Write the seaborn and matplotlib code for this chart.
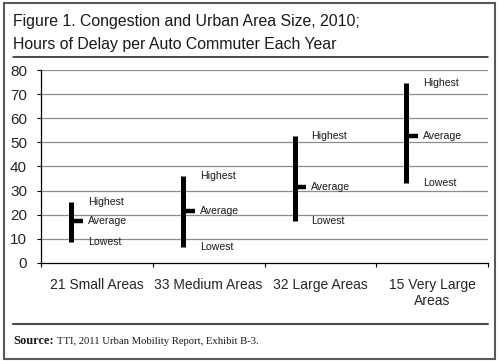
import pandas as pd
import seaborn as sns
import matplotlib.pyplot as plt
from matplotlib.patches import Rectangle
from matplotlib.lines import Line2D

# Dados (horas de atraso por usuário de automóvel, 2010)
areas = ['21 Small Areas', '33 Medium Areas', '32 Large Areas', '15 Very Large\nAreas']
highest = [25.4, 36.0, 52.6, 74.7]
average = [17.5, 21.6, 31.3, 52.6]
lowest = [8.8, 6.7, 17.3, 33.0]
y_ticks = [0, 10, 20, 30, 40, 50, 60, 70, 80]

sns.set_theme(style='white')
plt.rcParams['font.family'] = ['Liberation Sans', 'DejaVu Sans']

df = pd.DataFrame({'area': areas, 'Highest': highest, 'Average': average, 'Lowest': lowest})
df['pos'] = range(len(df))
df['pos'] = df['pos'] - 0.23
df_long = df.melt(id_vars=['area', 'pos'], value_vars=['Lowest', 'Highest'], value_name='valor')

fig = plt.figure(figsize=(5, 3.61), dpi=100)
ax = fig.add_axes([0.082, 0.272, 0.894, 0.534])

# linhas horizontais de grade
for t in y_ticks[1:]:
    ax.axhline(t, color='#8c8c8c', lw=0.9, zorder=0)

# faixa mínimo-máximo
sns.lineplot(data=df_long, x='pos', y='valor', units='area', estimator=None,
             color='black', lw=3.6, ax=ax, legend=False, sort=False)
for line in ax.lines:
    line.set_solid_capstyle('butt')
# marca da média
ax.hlines(df['Average'], df['pos'], df['pos'] + 0.105, color='black', lw=3.2)

# rótulos
for _, r in df.iterrows():
    for nome in ['Highest', 'Average', 'Lowest']:
        ax.text(r['pos'] + 0.15, r[nome], nome, fontsize=7.6, va='center', ha='left', color='#1a1a1a')

ax.set_xlim(-0.5, 3.5)
ax.set_ylim(0, 80)
ax.set_yticks(y_ticks)
ax.set_xticks([-0.5, 0.5, 1.5, 2.5, 3.5])
ax.set_xticklabels([])
ax.set_xticks(range(4), minor=True)
ax.set_xticklabels(areas, minor=True, fontsize=10)
ax.tick_params(axis='x', which='minor', length=0, pad=11)
ax.tick_params(axis='x', which='major', length=3, width=0.8, color='black', direction='out', bottom=True)
ax.tick_params(axis='y', length=3, width=0.8, color='black', direction='out', left=True, pad=7, labelsize=11)
ax.set_xlabel('')
ax.set_ylabel('')
for s in ['top', 'right']:
    ax.spines[s].set_visible(False)
for s in ['left', 'bottom']:
    ax.spines[s].set_color('black')
    ax.spines[s].set_linewidth(0.9)
ax.set_facecolor('white')

# título e moldura
fig.text(13 / 500, 1 - 26 / 361, 'Figure 1. Congestion and Urban Area Size, 2010;',
         fontsize=11.4, va='baseline', ha='left', color='#1a1a1a')
fig.text(13 / 500, 1 - 48.5 / 361, 'Hours of Delay per Auto Commuter Each Year',
         fontsize=11.4, va='baseline', ha='left', color='#1a1a1a')
fig.add_artist(Line2D([13 / 500, 488 / 500], [1 - 57 / 361, 1 - 57 / 361], color='#1a1a1a', lw=1.1))
fig.add_artist(Line2D([13 / 500, 488 / 500], [1 - 324 / 361, 1 - 324 / 361], color='#4d4d4d', lw=1.5))
fig.text(13 / 500, 1 - 344 / 361, 'Source:', fontsize=9, fontweight='bold', family='Liberation Serif',
         va='baseline', ha='left', color='#1a1a1a')
fig.text(57 / 500, 1 - 344 / 361, 'TTI, 2011 Urban Mobility Report, Exhibit B-3.', fontsize=7.7,
         family='Liberation Serif', va='baseline', ha='left', color='#1a1a1a')
fig.add_artist(Rectangle((3.5 / 500, 2 / 361), 491.5 / 500, 356 / 361, fill=False,
                         edgecolor='#595959', lw=1.5, transform=fig.transFigure))

plt.savefig('out.png', dpi=100)
